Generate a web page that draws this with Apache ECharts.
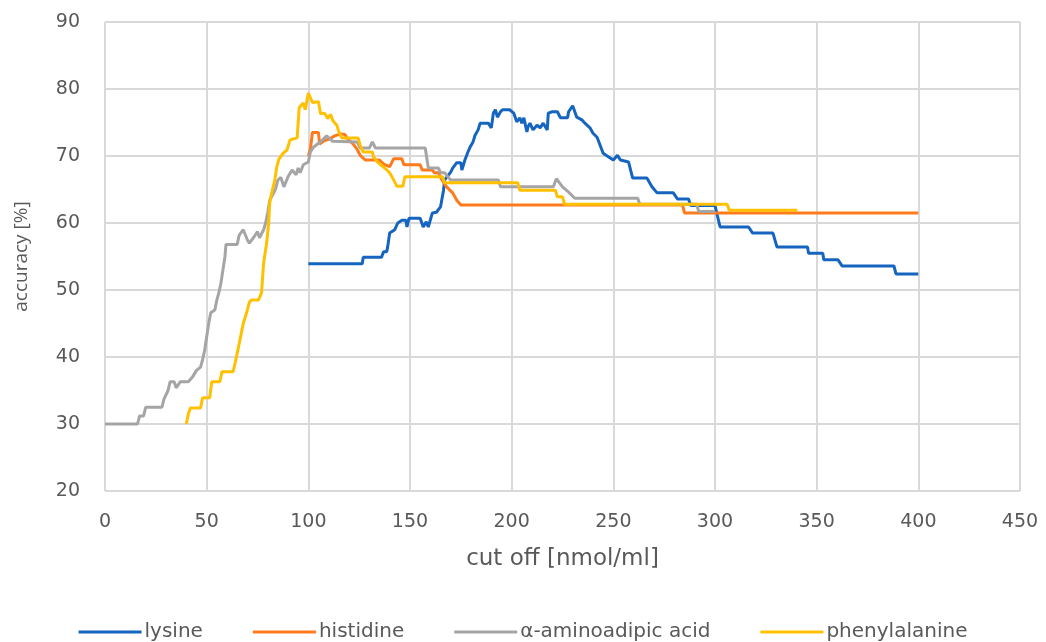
<!DOCTYPE html>
<html><head><meta charset="utf-8">
<script src="https://cdn.jsdelivr.net/npm/echarts@6/dist/echarts.min.js"></script>
<style>html,body{margin:0;padding:0;background:#fff}#c{width:1046px;height:642px}</style>
</head><body><div id="c"></div>
<script>
const seriesNames = ['lysine','histidine','α-aminoadipic acid','phenylalanine'];
const xTicks = [0,50,100,150,200,250,300,350,400,450];
const yTicks = [20,30,40,50,60,70,80,90];

const lysine = [[100,53.9],[126.5,53.9],[127,54.9],[136,54.9],[137,55.7],[138.5,55.7],[139,56.4],[140,58.5],[142.5,59],[144,60],[146,60.4],[148,60.4],[148.5,59.4],[149.5,60.7],[155,60.7],[156.5,59.4],[158,60.2],[159,59.4],[161,61.5],[163,61.6],[165,62.4],[166.5,64.9],[167,66.4],[170,67.6],[171,68.2],[173,69],[175,69],[175.5,67.9],[177,69.4],[178.5,70.6],[179.5,71.3],[181,72.1],[182,73.1],[183.5,73.9],[184.5,74.9],[188.5,74.9],[190,74.2],[191,76.4],[192,76.9],[193,75.8],[194.5,76.6],[195.5,76.9],[199,76.9],[201,76.4],[202.5,75.1],[204,75.7],[205,74.9],[206,75.7],[207.5,73.6],[208,74.3],[209,74.9],[210.5,73.9],[212.5,74.6],[214,74.2],[215.5,74.9],[217.5,73.9],[218,76.4],[220,76.6],[222.5,76.6],[224,75.7],[227.5,75.7],[228,76.6],[230,77.5],[232,75.8],[234.5,75.4],[236,74.9],[238.5,74.2],[240,73.4],[242,72.8],[243.5,71.6],[245,70.4],[247.5,69.9],[250,69.4],[252,70.1],[253.5,69.4],[257.5,69.1],[259.5,66.7],[266.5,66.7],[269,65.4],[271.5,64.5],[279.5,64.5],[281.5,63.6],[287,63.6],[288,62.6],[300,62.6],[302.5,59.4],[316.5,59.4],[318.5,58.5],[328.5,58.5],[330.5,56.4],[345.5,56.4],[346,55.5],[353,55.5],[353.5,54.5],[360.5,54.5],[362.5,53.6],[388,53.6],[389,52.4],[400,52.4]];

const histidine = [[100,70],[101,71],[102,73.5],[105,73.5],[105.5,71.8],[108,72.3],[110,72.5],[113,73.0],[116,73.3],[118,73.2],[119.5,72.5],[122,71.8],[124,71],[125.5,70.1],[128,69.4],[135,69.4],[137,68.8],[140,68.4],[142,69.6],[146,69.6],[147,68.7],[155,68.7],[156,67.9],[161,67.9],[162,67.5],[164,67.5],[165,66.8],[168,65.4],[171,64.5],[173,63.4],[175,62.7],[284,62.7],[285,61.5],[400,61.5]];

const aminoadipic = [[0,30],[16,30],[17,31.2],[19,31.2],[20,32.5],[28,32.5],[29,33.7],[31,35],[32,36.3],[34,36.3],[35,35.4],[37,36.3],[41,36.3],[43,37],[45,38],[47,38.5],[48,39.6],[49,41],[50,43],[51,45],[52,46.6],[54,47],[55,48.5],[56,49.6],[57,51],[58,53],[59,55],[59.5,56.8],[65,56.8],[66,58.2],[68,59],[70,57.5],[71,57],[73,57.8],[75,58.7],[76,57.8],[78,59],[79,60],[80,61.5],[81,63.4],[83,64.5],[84,65.2],[85,66.4],[86.5,66.8],[88,65.4],[90,66.9],[92,67.9],[94,67.2],[95,68.2],[96,67.5],[97.5,68.7],[100,69.1],[101,70.6],[102.5,71.3],[105,71.9],[107,72.4],[109,73],[110.5,72.6],[112,72.2],[124,72.1],[125.5,71.2],[130,71.2],[131.5,72.1],[133,71.2],[157.5,71.2],[159,68.2],[164,68.2],[165,67.5],[167,67.5],[170,66.4],[193.5,66.4],[194.5,65.4],[220.5,65.4],[222,66.6],[225,65.4],[228,64.6],[231,63.7],[262,63.7],[263,62.8],[291,62.8],[292,61.7],[300,61.7]];

const phenylalanine = [[40,30],[41,31.5],[42,32.4],[47,32.4],[48,33.9],[51.5,33.9],[52.5,36.3],[56.5,36.3],[57.5,37.8],[63,37.8],[64,39.1],[66,42],[68,45],[70,47],[71,48.2],[72,48.5],[75.5,48.5],[77,49.6],[78,54],[79.5,57],[80.5,60],[81,63],[82,64.5],[83.5,66.4],[84.5,68.4],[85.5,69.5],[87.5,70.4],[89.5,70.9],[91,72.4],[94.5,72.7],[95.5,77.2],[97.5,77.9],[98.5,76.9],[100,79.4],[102,78],[105,78.1],[106,76.3],[108,76.4],[109.5,75.6],[111,76.2],[112,75.3],[114,74.6],[115,73.6],[116.5,72.7],[124.5,72.7],[125.5,71.6],[127,70.6],[131.5,70.6],[132,69.9],[134,69.1],[135.5,68.7],[138,68.1],[140,67.5],[142,66.4],[143.5,65.5],[146.5,65.5],[147.5,66.9],[166,66.9],[167,66],[203,66],[204,64.9],[221.5,64.9],[222.5,63.9],[225,63.9],[226,62.8],[306,62.8],[307,61.9],[340.5,61.9]];

const dataSets = [lysine, histidine, aminoadipic, phenylalanine];
const colors = ['#1565C0','#FF7A1C','#A5A5A5','#FFC000'];
const txt = '#595959';
const wide = 'DejaVu Sans';

const chart = echarts.init(document.getElementById('c'), null, {renderer:'canvas'});
chart.setOption({
  animation:false,
  backgroundColor:'#fff',
  textStyle:{fontFamily:wide},
  grid:{left:105, right:26, top:22, bottom:151, containLabel:false},
  legend:{
    top:622, left:'center', itemWidth:63, itemHeight:3, itemGap:50,
    icon:'rect', padding:0,
    textStyle:{color:txt, fontSize:20, fontFamily:wide, padding:[0,0,0,-2]},
    data:seriesNames
  },
  xAxis:{
    type:'value', min:xTicks[0], max:xTicks[xTicks.length-1], interval:50,
    name:'cut off [nmol/ml]', nameLocation:'middle', nameGap:57,
    nameTextStyle:{color:txt, fontSize:23, fontFamily:wide},
    axisLine:{show:false}, axisTick:{show:false},
    axisLabel:{color:txt, fontSize:19, margin:22, fontFamily:wide},
    splitLine:{show:true, lineStyle:{color:'#D9D9D9', width:2}}
  },
  yAxis:{
    type:'value', min:yTicks[0], max:yTicks[yTicks.length-1], interval:10,
    name:'accuracy [%]', nameLocation:'middle', nameGap:74, nameRotate:90,
    nameTextStyle:{color:txt, fontSize:19, fontFamily:'Open Sans'},
    axisLine:{show:false}, axisTick:{show:false},
    axisLabel:{color:txt, fontSize:19, margin:25, fontFamily:wide},
    splitLine:{show:true, lineStyle:{color:'#D9D9D9', width:2}}
  },
  series: seriesNames.map((n,i)=>({
    name:n, type:'line', data:dataSets[i], showSymbol:false, symbol:'none',
    lineStyle:{color:colors[i], width:3}, itemStyle:{color:colors[i]},
    z: 2+i
  }))
});
</script></body></html>
